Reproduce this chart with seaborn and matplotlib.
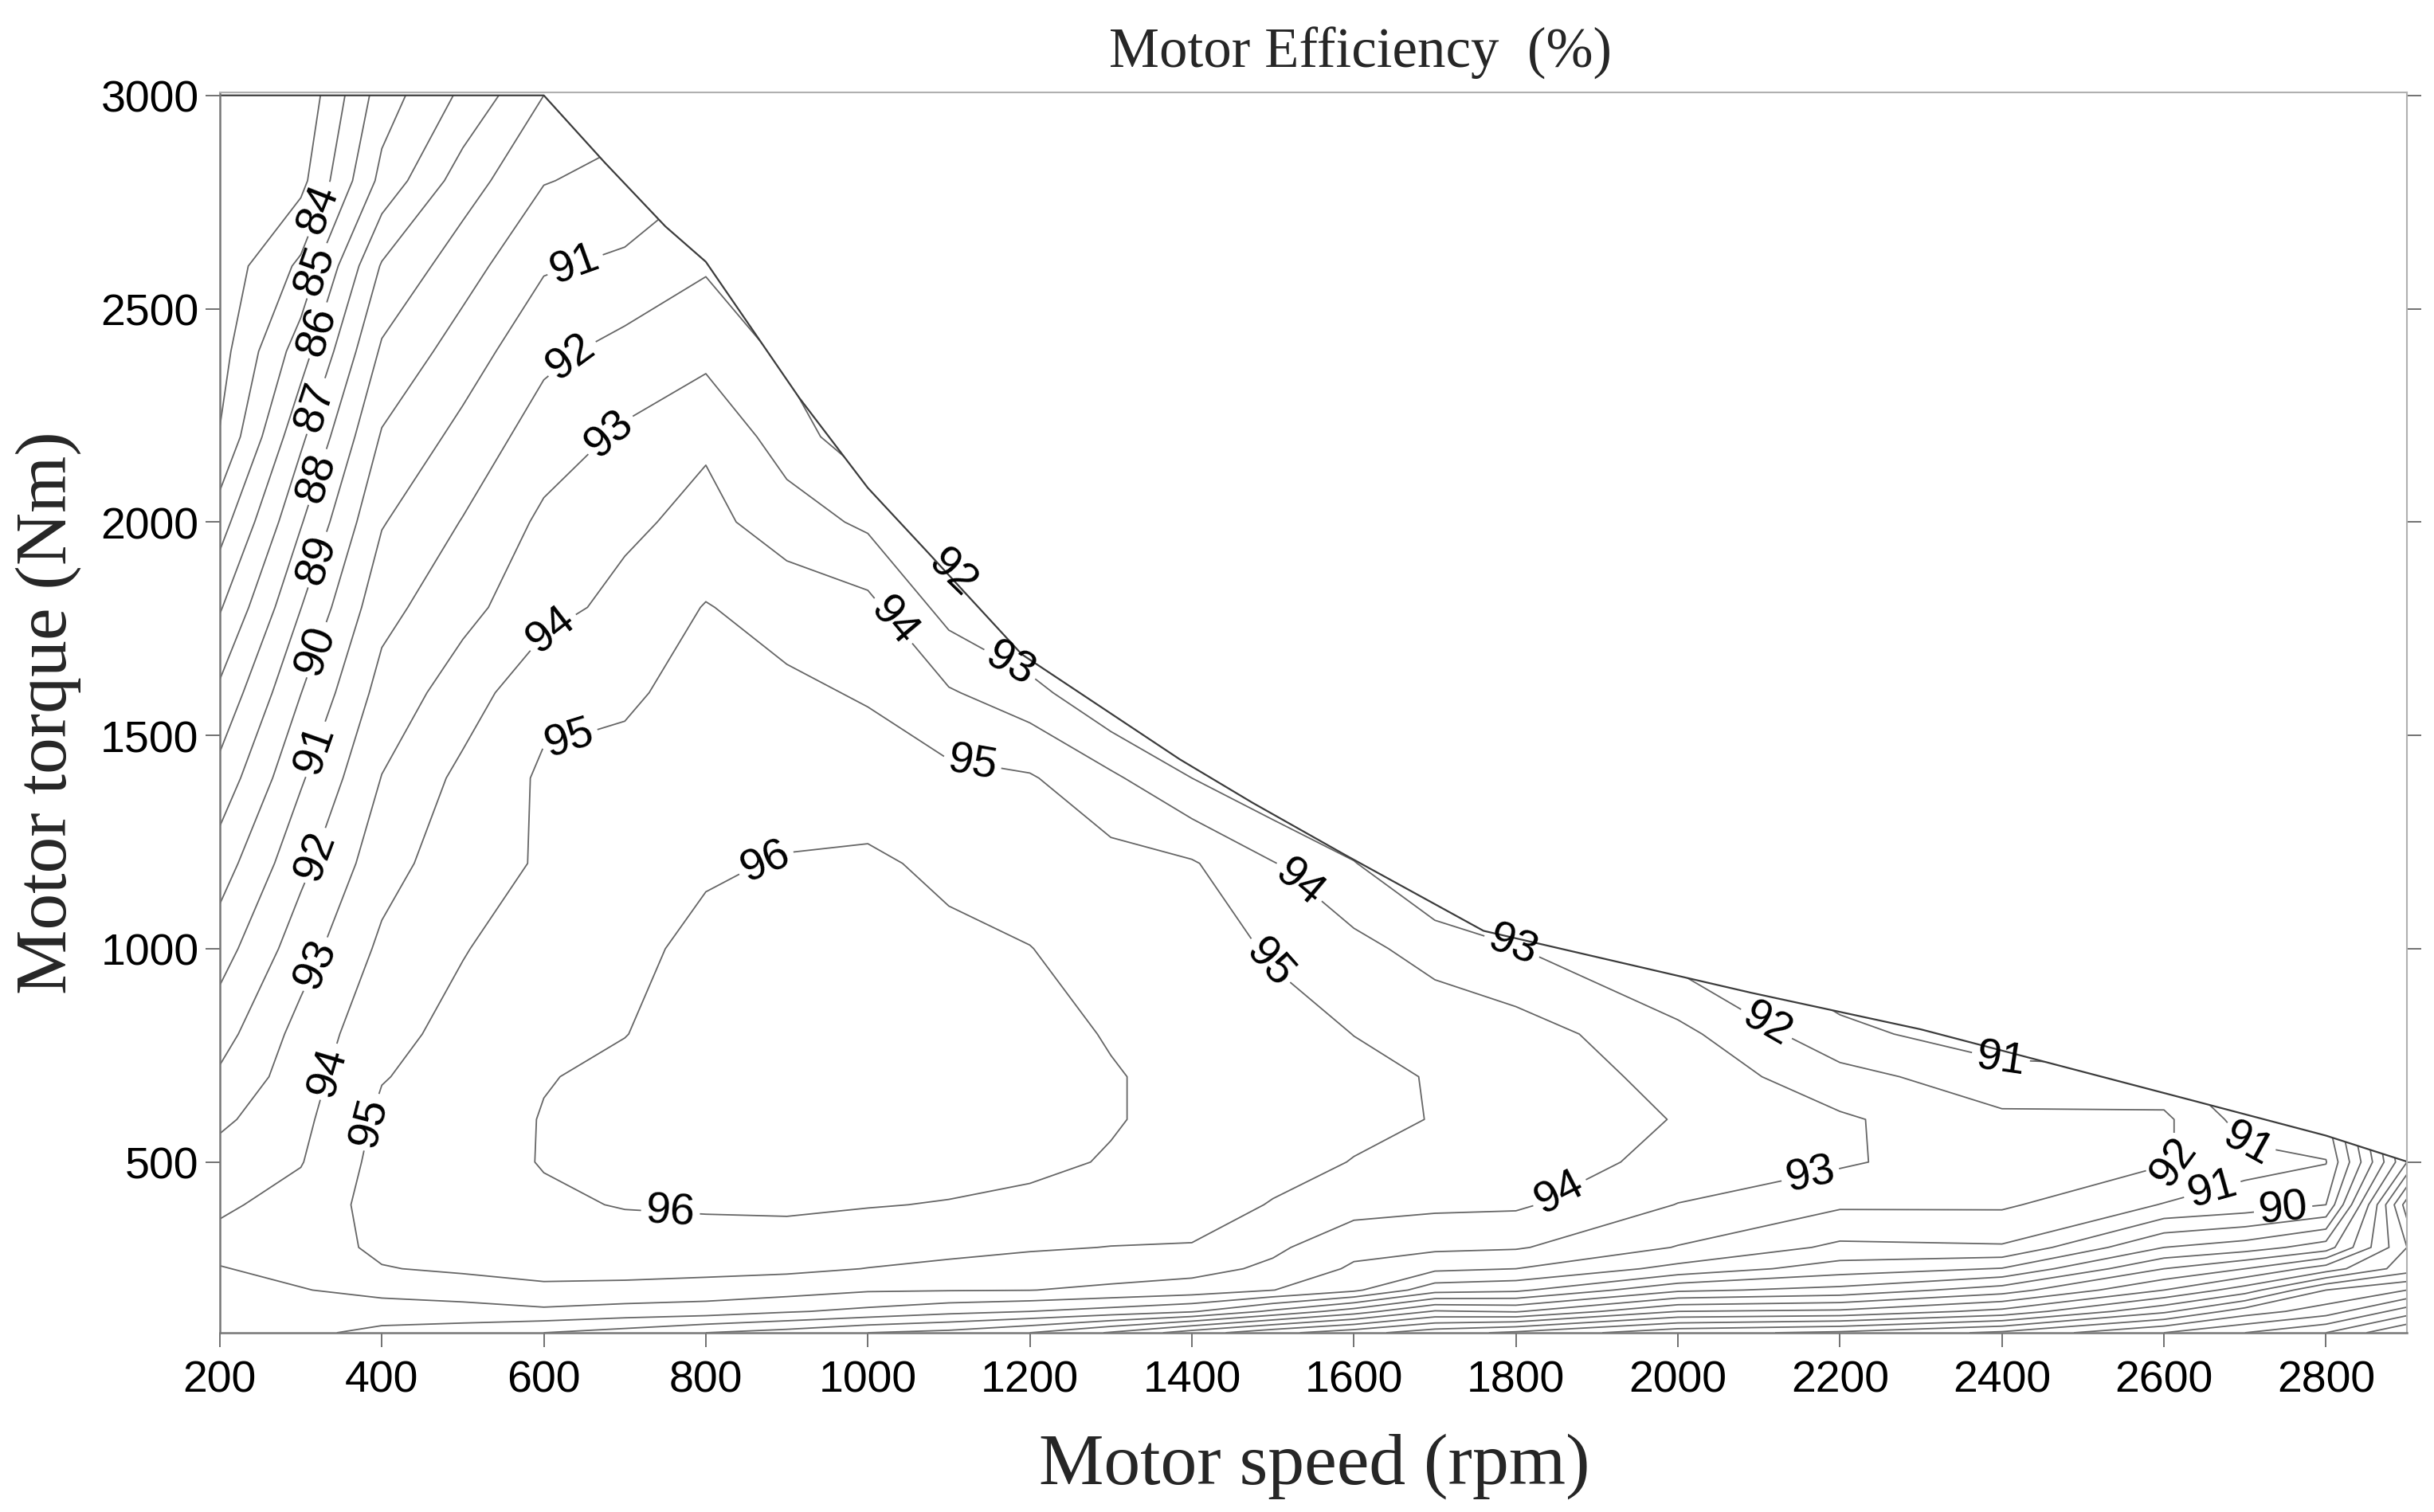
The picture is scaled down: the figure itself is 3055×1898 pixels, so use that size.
import numpy as np
import seaborn as sns
import matplotlib.pyplot as plt
from matplotlib.patches import Polygon

# grid of the efficiency map
speeds = [200, 300, 400, 500, 600, 700, 800, 900, 1000, 1100, 1200, 1300,
          1400, 1500, 1600, 1700, 1800, 2000, 2200, 2400, 2600, 2700, 2800, 2900]
torques = [100, 150, 200, 250, 300, 400, 500, 600, 700, 800, 1000, 1200,
           1400, 1600, 1800, 2000, 2200, 2400, 2600, 2800, 3000]

# efficiency (%) along the torques above, one list per speed (rpm)
eff_200 = [93.4, 93.7, 93.9, 93.95, 94.3, 93.85, 93.4, 92.8, 92.15, 91.6, 90.55,
           89.5, 88.35, 87.2, 85.9, 84.55, 83.05, 82.6, 82.35, 82.2, 82.1]
eff_300 = [93.2, 93.6, 93.95, 94.3, 94.5, 94.35, 93.95, 93.75, 93.55, 93.35, 92.55,
           91.72, 90.88, 89.98, 88.98, 87.92, 86.79, 85.52, 84.2, 82.7, 82.2]
eff_400 = [92.75, 93.5, 94.3, 94.95, 95.2, 95.4, 95.35, 95.2, 94.95, 94.7, 94.2,
           93.6, 93.03, 92.37, 91.67, 90.93, 90.1, 89.16, 88.1, 86.3, 85.5]
eff_500 = [92.5, 93.6, 94.5, 95.15, 95.4, 95.6, 95.6, 95.5, 95.4, 95.3, 94.95,
           94.6, 94.25, 93.5, 92.7, 92.05, 91.3, 90.48, 89.57, 88.5, 87.2]
eff_600 = [92.0, 93.8, 94.8, 95.3, 95.5, 95.85, 96.05, 96.05, 95.95, 95.8, 95.5,
           95.1, 95.15, 94.75, 93.65, 93.2, 92.5, 91.75, 90.9, 89.95, 89.0]
eff_700 = [91.6, 93.6, 94.7, 95.35, 95.6, 96.05, 96.3, 96.3, 96.2, 95.98, 95.8,
           95.55, 95.3, 94.85, 94.3, 93.8, 93.15, 92.34, 91.2, 90.3, 89.6]
eff_800 = [91.0, 93.5, 94.55, 95.3, 95.65, 96.1, 96.45, 96.5, 96.45, 96.4, 96.2,
           95.9, 95.6, 95.35, 95.05, 94.3, 93.85, 92.7, 91.9, 91.0, 90.2]
eff_900 = [90.6, 93.1, 94.4, 95.2, 95.6, 96.15, 96.5, 96.6, 96.6, 96.55, 96.4,
           96.05, 95.65, 95.2, 94.6, 93.5, 92.5, 91.8, 91.0, 90.3, 89.6]
eff_1000 = [90.0, 92.75, 94.1, 94.98, 95.4, 96.05, 96.45, 96.6, 96.65, 96.6, 96.45,
            96.15, 95.5, 94.9, 94.3, 92.8, 91.3, 91.0, 90.3, 89.6, 89.0]
eff_1100 = [89.7, 92.3, 94.05, 94.8, 95.25, 95.95, 96.35, 96.5, 96.5, 96.45, 96.2,
            95.8, 95.25, 94.1, 92.6, 91.2, 91.0, 90.3, 89.6, 89.0, 88.4]
eff_1200 = [89.0, 92.0, 94.02, 94.6, 95.1, 95.85, 96.15, 96.3, 96.3, 96.25, 96.02,
            95.55, 95.1, 93.4, 91.5, 90.8, 90.1, 89.5, 88.9, 88.3, 87.7]
eff_1300 = [87.9, 91.6, 93.8, 94.5, 94.98, 95.6, 95.95, 96.05, 96.05, 95.95, 95.6,
            95.35, 94.2, 92.0, 90.8, 90.0, 89.4, 88.8, 88.2, 87.6, 87.0]
eff_1400 = [86.5, 91.1, 93.55, 94.35, 94.95, 95.4, 95.7, 95.8, 95.8, 95.7, 95.45,
            95.1, 93.0, 91.5, 90.5, 89.7, 89.0, 88.4, 87.8, 87.2, 86.6]
eff_1500 = [85.3, 89.8, 93.02, 93.8, 94.2, 94.95, 95.3, 95.45, 95.45, 95.35, 94.9,
            94.05, 92.0, 91.0, 90.1, 89.4, 88.7, 88.1, 87.5, 86.9, 86.3]
eff_1600 = [84.4, 88.5, 92.2, 92.85, 93.3, 94.4, 94.97, 95.2, 95.2, 94.99, 94.3,
            93.05, 91.5, 90.5, 89.7, 89.0, 88.4, 87.8, 87.2, 86.6, 86.0]
eff_1700 = [83.4, 86.9, 90.4, 92.2, 93.2, 94.2, 94.75, 94.97, 94.95, 94.7, 93.6,
            91.8, 90.6, 89.8, 89.1, 88.5, 87.9, 87.3, 86.7, 86.1, 85.5]
eff_1800 = [82.8, 87.1, 90.2, 92.0, 93.1, 94.15, 94.55, 94.7, 94.6, 94.45, 93.05,
            91.5, 90.3, 89.5, 88.8, 88.2, 87.6, 87.0, 86.4, 85.8, 85.2]
eff_2000 = [81.3, 85.0, 88.2, 90.7, 91.95, 92.97, 93.7, 93.95, 93.7, 93.3, 91.5,
            90.2, 89.4, 88.7, 88.1, 87.5, 86.9, 86.3, 85.7, 85.1, 84.5]
eff_2200 = [80.8, 84.8, 87.7, 89.5, 90.8, 92.15, 93.15, 93.15, 92.35, 91.3, 89.97,
            89.2, 88.5, 87.9, 87.3, 86.7, 86.1, 85.5, 84.9, 84.3, 83.7]
eff_2400 = [79.8, 83.7, 86.5, 88.95, 90.9, 92.15, 92.3, 92.2, 91.4, 90.4, 89.4,
            88.7, 88.1, 87.5, 86.9, 86.3, 85.7, 85.1, 84.5, 83.9, 83.3]
eff_2600 = [78.0, 81.2, 84.0, 86.0, 88.0, 90.95, 92.1, 92.2, 91.3, 90.0, 89.0,
            88.3, 87.7, 87.1, 86.5, 85.9, 85.3, 84.7, 84.1, 83.5, 82.9]
eff_2700 = [77.0, 79.5, 82.5, 85.0, 87.5, 90.6, 91.3, 90.6, 89.8, 89.2, 88.5,
            87.9, 87.3, 86.7, 86.1, 85.5, 84.9, 84.3, 83.7, 83.1, 82.5]
eff_2800 = [76.0, 78.5, 80.0, 83.5, 86.5, 90.0, 91.05, 90.2, 89.5, 89.0, 88.3,
            87.7, 87.1, 86.5, 85.9, 85.3, 84.7, 84.1, 83.5, 82.9, 82.3]
eff_2900 = [74.0, 76.5, 79.0, 81.5, 82.0, 80.5, 84.0, 83.5, 83.0, 82.5, 82.0,
            81.5, 81.0, 80.5, 80.0, 79.5, 79.0, 78.5, 78.0, 77.5, 77.0]

columns = [eff_200, eff_300, eff_400, eff_500, eff_600, eff_700, eff_800, eff_900,
           eff_1000, eff_1100, eff_1200, eff_1300, eff_1400, eff_1500, eff_1600,
           eff_1700, eff_1800, eff_2000, eff_2200, eff_2400, eff_2600, eff_2700,
           eff_2800, eff_2900]

# maximum torque curve of the motor
env_speed = [200, 600, 675, 750, 800, 915, 1000, 1075, 1190, 1385, 1475, 1590,
             1760, 2090, 2300, 2640, 2800, 2900]
env_torque = [3000, 3000, 2843, 2693, 2610, 2292, 2080, 1927, 1690, 1444, 1342,
              1219, 1042, 897, 811, 642, 562, 501]

# where the contour labels sit
label_spots = {
    84: [(323, 2733)],
    85: [(325, 2586)],
    86: [(325, 2447)],
    87: [(325, 2268)],
    88: [(325, 2103)],
    89: [(325, 1909)],
    90: [(325, 1697), (2749, 354)],
    91: [(325, 1463), (635, 2623), (2398, 738), (2700, 519), (2665, 400)],
    92: [(325, 1214), (631, 2392), (1097, 1865), (2119, 855), (2620, 489)],
    93: [(325, 958), (675, 2220), (1166, 1635), (1792, 987), (2165, 456)],
    94: [(339, 709), (612, 1737), (1035, 1774), (1526, 1141), (1859, 409)],
    95: [(391, 592), (622, 1551), (1132, 1470), (1488, 958)],
    96: [(872, 1214), (756, 372)],
}

sns.set_theme(style="ticks")
plt.rcParams['font.family'] = ['Liberation Sans', 'DejaVu Sans']
serif = ['Liberation Serif', 'DejaVu Serif']

fig = plt.figure(figsize=(30.55, 18.99), dpi=100)
ax = fig.add_axes([0.0903, 0.1185, 0.8986, 0.8199])

eff = np.array(columns).T

# keep the lines inside the operating envelope
outline = ([(190, 90), (2910, 90), (2910, env_torque[-1])]
           + list(zip(env_speed[::-1], env_torque[::-1]))
           + [(190, env_torque[0])])
clip = Polygon(outline, closed=True, transform=ax.transData,
               fill=False, edgecolor='none')

# one contour set per level, so each label lands on its own line
for lev in range(75, 97):
    cs = ax.contour(speeds, torques, eff, levels=[lev],
                    colors='#666666', linewidths=1.3)
    cs.set_clip_path(clip)
    if lev in label_spots:
        ax.clabel(cs, manual=label_spots[lev], inline=True, fmt='%d',
                  fontsize=40, colors='black', inline_spacing=6)

sns.lineplot(x=env_speed, y=env_torque, ax=ax, color='#3c3c3c',
             linewidth=1.6, estimator=None, sort=False)

ax.set_xlim(200, 2900)
ax.set_ylim(100, 3007)
ax.set_xticks(range(200, 2801, 200))
ax.set_yticks(range(500, 3001, 500))
ax.set_xlabel('')
ax.set_ylabel('')
ax.tick_params(axis='both', direction='out', length=13, width=1.3,
               color='#666666', labelsize=40, labelcolor='black')
ax.tick_params(axis='x', pad=11)
ax.tick_params(axis='y', pad=6, right=True, labelright=False)

for side in ['left', 'bottom']:
    ax.spines[side].set_color('#777777')
    ax.spines[side].set_linewidth(1.8)
for side in ['top', 'right']:
    ax.spines[side].set_visible(True)
    ax.spines[side].set_color('#b0b0b0')
    ax.spines[side].set_linewidth(1.5)

fig.text(0.559, 0.965, 'Motor Efficiency  (%)', ha='center', va='center',
         fontsize=51, family=serif)
fig.text(0.540, 0.031, 'Motor speed (rpm)', ha='center', va='center',
         fontsize=66, family=serif)
fig.text(0.020, 0.529, 'Motor torque (Nm)', ha='center', va='center',
         rotation=90, fontsize=66, family=serif)

fig.savefig('out.png', dpi=100)
